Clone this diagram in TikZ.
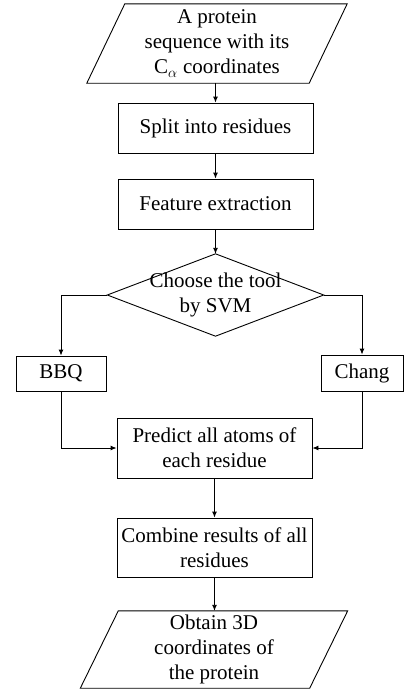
\documentclass[tikz,border=0pt]{standalone}
\usepackage{fontspec}
\setmainfont{Liberation Serif}
\usetikzlibrary{arrows.meta}

\begin{document}
\begin{tikzpicture}[x=1pt, y=-1pt,
    every node/.style={font=\fontsize{21}{25}\selectfont, align=center, inner sep=0pt},
    procbox/.style={draw, line width=0.9pt, minimum width=195pt, minimum height=50pt},
    arr/.style={line width=0.9pt, -{Latex[length=6pt, width=5pt]}}]
  \useasboundingbox (0,0) rectangle (404,691);

  % Input / output
  \node[minimum width=222pt, minimum height=79pt] (in) at (217,43.5)
    {A protein\\ sequence with its\\ C$_\alpha$ coordinates};
  \draw[line width=0.9pt] ([xshift=19pt]in.north west) -- ([xshift=19pt]in.north east)
    -- ([xshift=-19pt]in.south east) -- ([xshift=-19pt]in.south west) -- cycle;

  \node[minimum width=229pt, minimum height=77pt] (out) at (214,649.5)
    {Obtain 3D\\ coordinates of\\ the protein};
  \draw[line width=0.9pt] ([xshift=19pt]out.north west) -- ([xshift=19pt]out.north east)
    -- ([xshift=-19pt]out.south east) -- ([xshift=-19pt]out.south west) -- cycle;

  % Steps
  \node[procbox] (split) at (215.5,128) {Split into residues};
  \node[procbox] (feat) at (215.5,204) {Feature extraction};

  \node[minimum width=216pt, minimum height=82pt] (svm) at (215.5,295) {Choose the tool\\ by SVM};
  \draw[line width=0.9pt] (svm.north) -- (svm.east) -- (svm.south) -- (svm.west) -- cycle;

  \node[procbox, minimum width=90pt, minimum height=35pt] (bbq) at (61,373.5) {BBQ};
  \node[procbox, minimum width=82pt, minimum height=36pt] (chang) at (362,373) {Chang};

  \node[procbox, minimum height=60pt] (pred) at (214.5,448) {Predict all atoms of\\ each residue};
  \node[procbox, minimum height=59pt] (comb) at (214.5,547.5) {Combine results of all\\ residues};

  % Connectors
  \draw[arr] (in.south -| split.north) -- (split.north);
  \draw[arr] (split) -- (feat);
  \draw[arr] (feat.south) -- (svm.north);
  \draw[arr] (svm.west) -| (bbq.north);
  \draw[arr] (svm.east) -| (chang.north);
  \draw[arr] (bbq.south) |- (pred.west);
  \draw[arr] (chang.south) |- (pred.east);
  \draw[arr] (pred.south -| comb.north) -- (comb.north);
  \draw[arr] (comb.south) -- (comb.south |- out.north);
\end{tikzpicture}
\end{document}
